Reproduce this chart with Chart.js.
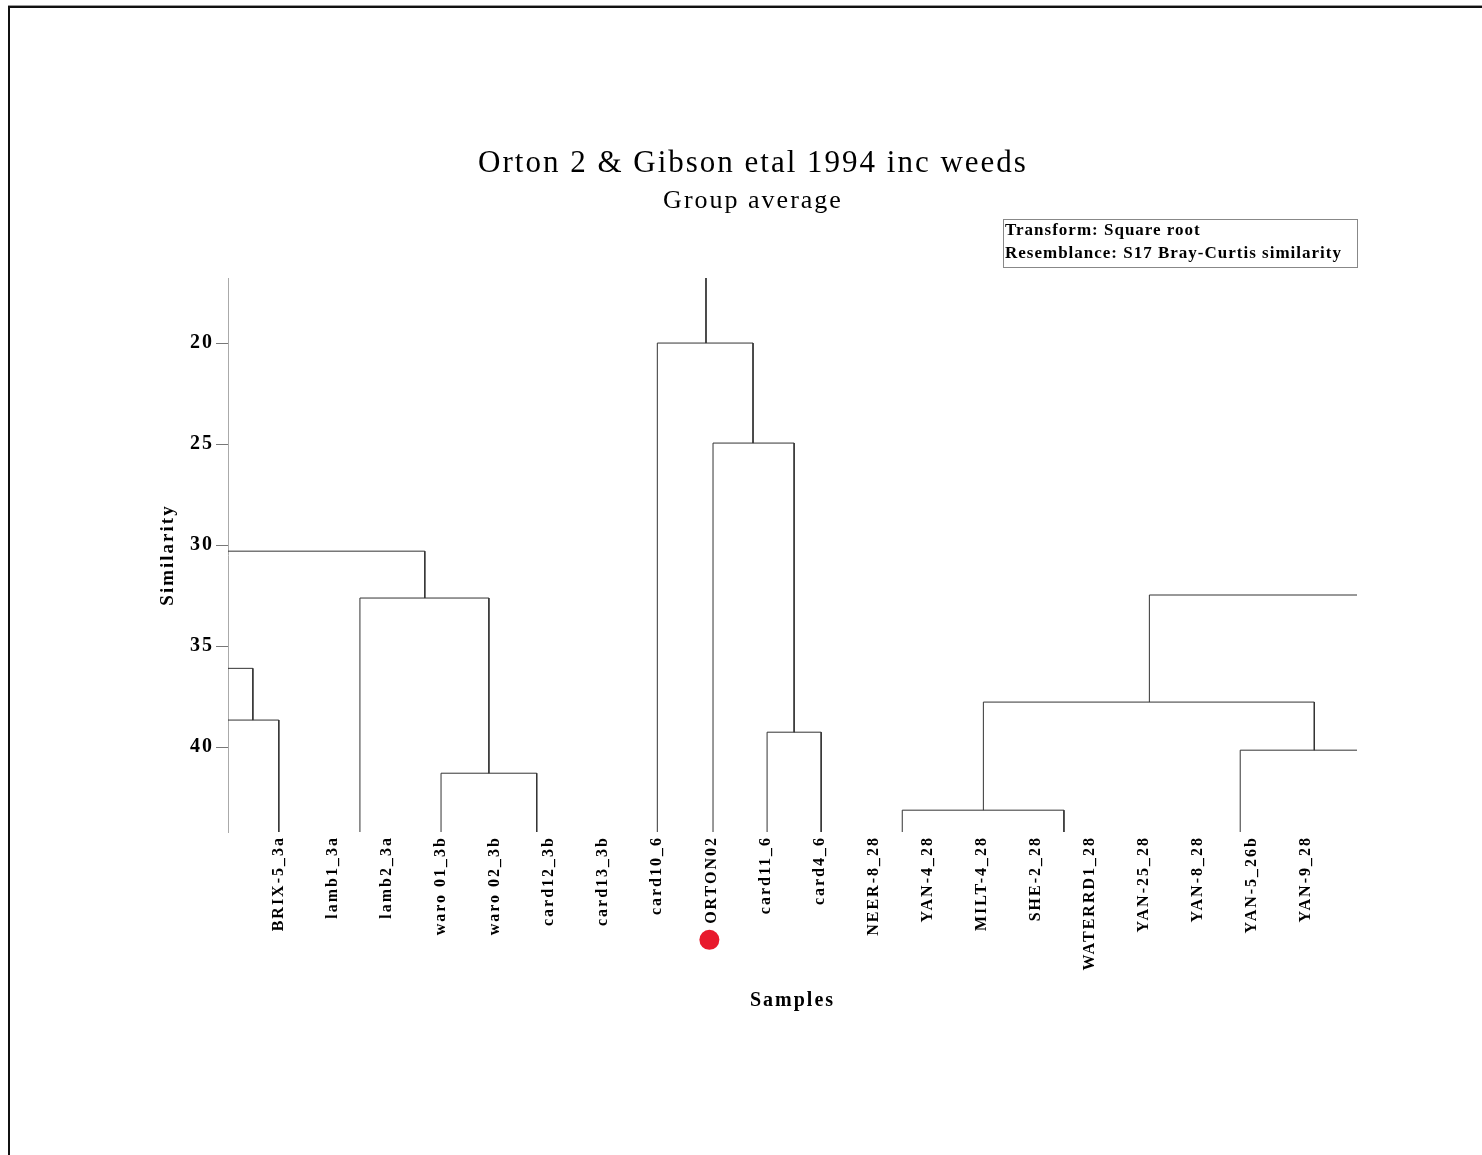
<!DOCTYPE html>
<html>
<head>
<meta charset="utf-8">
<script src="https://cdn.jsdelivr.net/npm/chart.js@4.4.1/dist/chart.umd.min.js"></script>
<style>
  html, body { margin: 0; padding: 0; background: #fff; overflow: hidden; }
  #wrap { position: relative; width: 1482px; height: 1155px; overflow: hidden; }
  #frame { position: absolute; left: 8px; top: 6px; width: 1600px; height: 1300px;
           border-left: 2px solid #111; border-top: 2px solid #111; box-shadow: 0 -1px 0 #999; }
  #chart { position: absolute; left: 0; top: 0; }
</style>
</head>
<body>
<div id="wrap">
  <div id="frame"></div>
  <canvas id="chart" width="1482" height="1155"></canvas>
</div>
<script>
// Samples along the bottom, in dendrogram order
const samples = ['BRIX-5_3a', 'lamb1_3a', 'lamb2_3a', 'waro 01_3b', 'waro 02_3b', 'card12_3b',
  'card13_3b', 'card10_6', 'ORTON02', 'card11_6', 'card4_6', 'NEER-8_28', 'YAN-4_28',
  'MILT-4_28', 'SHE-2_28', 'WATERRD1_28', 'YAN-25_28', 'YAN-8_28', 'YAN-5_26b', 'YAN-9_28'];
const highlighted = 'ORTON02';
const similarityTicks = [20, 25, 30, 35, 40];
const similarityTop = 16.78;     // top of the similarity axis
const leafLevel = 44.2;          // level where the sample branches end

// Cluster joins: similarity of each join, horizontal extent (sample-slot units)
// and the level each of the two branches drops to
const joinLevel    = [36.1, 38.66, 30.3, 32.62, 41.29, 20.0, 24.95, 39.26, 32.47, 37.77, 40.15, 43.12];
const joinLeftX    = [-0.94, -0.94, -0.94, 1.5, 3.0, 7.0, 8.03, 9.03, 16.1, 13.03, 17.78, 11.53];
const joinRightX   = [-0.48, 0.0, 2.7, 3.885, 4.77, 8.77, 9.53, 10.03, 19.94, 19.15, 19.94, 14.52];
const joinLeftEnd  = [36.1, 38.66, 30.3, leafLevel, leafLevel, leafLevel, leafLevel, leafLevel, 37.77, 43.12, leafLevel, leafLevel];
const joinRightEnd = [38.66, leafLevel, 32.62, 41.29, leafLevel, 24.95, 39.26, leafLevel, 32.47, 40.15, 40.15, leafLevel];
// Stem rising from the top join
const stemX = 7.9;
const stemFrom = similarityTop;
const stemTo = 20.0;

const xMin = -0.94, xMax = 19.94;
const lineColor = '#333';
const serif = "'Liberation Serif', 'DejaVu Serif', serif";

const datasets = joinLevel.map((lv, k) => ({
  data: [
    { x: joinLeftX[k],  y: joinLeftEnd[k] },
    { x: joinLeftX[k],  y: lv },
    { x: joinRightX[k], y: lv },
    { x: joinRightX[k], y: joinRightEnd[k] }
  ],
  showLine: true, borderColor: lineColor, borderWidth: 1,
  pointRadius: 0, tension: 0, clip: false
}));
datasets.push({
  data: [{ x: stemX, y: stemFrom }, { x: stemX, y: stemTo }],
  showLine: true, borderColor: lineColor, borderWidth: 1, pointRadius: 0, clip: false
});

// Wider glyph spacing for all chart text
const spacing = {
  id: 'spacing',
  beforeUpdate(c) { c.ctx.letterSpacing = '2px'; },
  beforeLayout(c) { c.ctx.letterSpacing = '2px'; },
  beforeDraw(c) { c.ctx.letterSpacing = '2px'; }
};

// Method note box and the marker next to the highlighted sample
const extras = {
  id: 'extras',
  afterDraw(c) {
    const ctx = c.ctx, area = c.chartArea, xs = c.scales.x;
    ctx.save();
    // note box
    const boxW = 354, boxH = 48;
    const bx = area.right - boxW, by = area.top - 59;
    ctx.strokeStyle = '#888'; ctx.lineWidth = 1;
    ctx.strokeRect(bx + 0.5, by + 0.5, boxW, boxH);
    ctx.letterSpacing = '1px';
    ctx.fillStyle = '#000';
    ctx.font = 'bold 17px ' + serif;
    ctx.textBaseline = 'middle'; ctx.textAlign = 'left';
    ctx.fillText('Transform: Square root', bx + 2, by + 12);
    ctx.fillText('Resemblance: S17 Bray-Curtis similarity', bx + 2, by + 35);
    // marker
    ctx.letterSpacing = '2px';
    ctx.font = 'bold 16px ' + serif;
    const w = ctx.measureText(highlighted).width;
    const cx = xs.getPixelForValue(samples.indexOf(highlighted)) - 2;
    const cy = area.bottom + 4 + w + 16;
    ctx.beginPath(); ctx.arc(cx, cy, 10, 0, Math.PI * 2);
    ctx.fillStyle = '#e8192c'; ctx.fill();
    ctx.restore();
  }
};

new Chart(document.getElementById('chart'), {
  type: 'scatter',
  data: { datasets },
  plugins: [spacing, extras],
  options: {
    responsive: false,
    animation: false,
    events: [],
    layout: { padding: { left: 149, right: 125, top: 0, bottom: 142 } },
    plugins: {
      legend: { display: false },
      tooltip: { enabled: false },
      title: {
        display: true, text: 'Orton 2 & Gibson etal 1994 inc weeds', color: '#000',
        font: { family: serif, size: 31, weight: 'normal', lineHeight: 1.2 },
        padding: { top: 145, bottom: 0 }
      },
      subtitle: {
        display: true, text: 'Group average', color: '#000',
        font: { family: serif, size: 26, weight: 'normal', lineHeight: 1.2 },
        padding: { top: 3, bottom: 61.6 }
      }
    },
    scales: {
      x: {
        type: 'linear', min: xMin, max: xMax,
        afterBuildTicks: s => { s.ticks = samples.map((_, i) => ({ value: i })); },
        afterFit: s => { s.height = 181; },
        ticks: {
          callback: v => samples[v] ?? '',
          autoSkip: false, minRotation: 90, maxRotation: 90, padding: 4,
          color: '#000', font: { family: serif, size: 16, weight: 'bold' }
        },
        grid: { display: false, drawTicks: false },
        border: { display: false },
        title: {
          display: true, text: 'Samples', color: '#000',
          font: { family: serif, size: 20, weight: 'bold', lineHeight: 1.2 },
          padding: { top: 0, bottom: 0 }
        }
      },
      y: {
        type: 'linear', reverse: true, min: similarityTop, max: leafLevel,
        afterBuildTicks: s => { s.ticks = similarityTicks.map(v => ({ value: v })); },
        afterFit: s => { s.width = 79; },
        ticks: {
          padding: 2, color: '#000',
          font: { family: serif, size: 20, weight: 'bold' }
        },
        grid: { display: true, drawOnChartArea: false, drawTicks: true, tickLength: 12, color: '#777', lineWidth: 1 },
        border: { display: true, color: '#aaa', width: 1 },
        title: {
          display: true, text: 'Similarity', color: '#000',
          font: { family: serif, size: 19, weight: 'bold', lineHeight: 1.2 },
          padding: { top: 8, bottom: 0 }
        }
      }
    }
  }
});
</script>
</body>
</html>
